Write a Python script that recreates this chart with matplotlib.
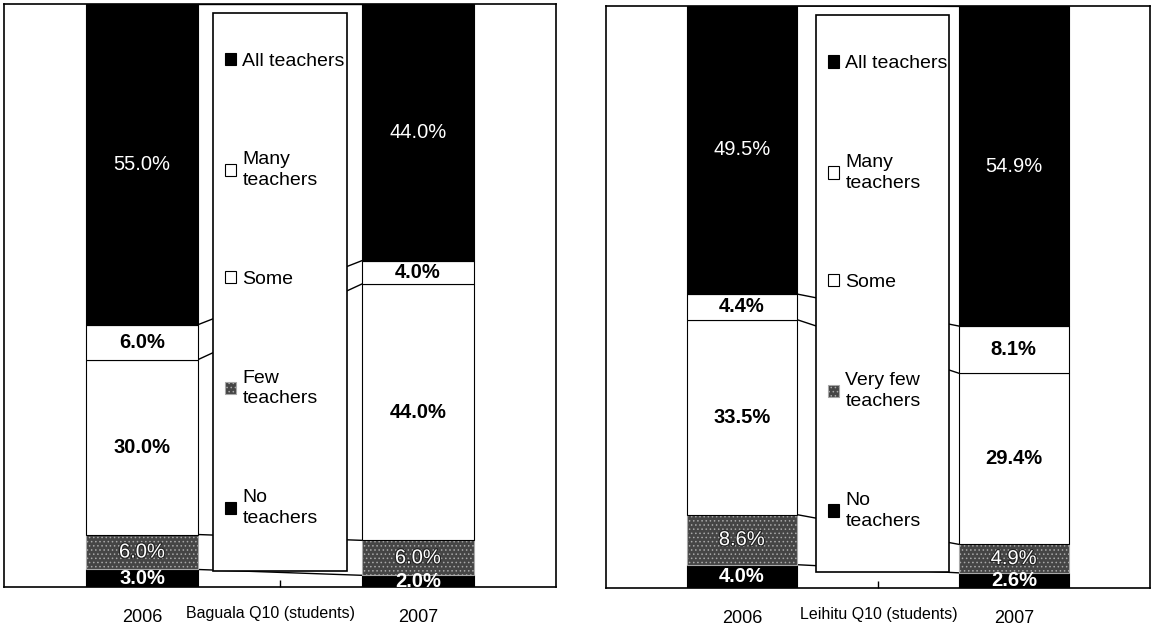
import matplotlib
matplotlib.use("Agg")
import numpy as np
import matplotlib.pyplot as plt
import matplotlib.patheffects as pe
from matplotlib.patches import Rectangle

plt.rcParams['font.family'] = ['Liberation Sans', 'DejaVu Sans']
plt.rcParams['hatch.linewidth'] = 0.6

# data (stack order: bottom -> top)
years = ['2006', '2007']
baguala_labels = ['No\nteachers', 'Few\nteachers', 'Some', 'Many\nteachers', 'All teachers']
baguala_2006 = [3.0, 6.0, 30.0, 6.0, 55.0]
baguala_2007 = [2.0, 6.0, 44.0, 4.0, 44.0]
leihitu_labels = ['No\nteachers', 'Very few\nteachers', 'Some', 'Many\nteachers', 'All teachers']
leihitu_2006 = [4.0, 8.6, 33.5, 4.4, 49.5]
leihitu_2007 = [2.6, 4.9, 29.4, 8.1, 54.9]

# segment styles
faces = ['black', '#454545', 'white', 'white', 'black']
edges = ['black', '#a8a8a8', 'black', 'black', 'black']
hatches = [None, '....', None, None, None]
txt_colors = ['white', 'white', 'black', 'black', 'white']
txt_weights = ['bold', 'normal', 'bold', 'bold', 'normal']

W = 0.405


def draw_panel(ax, v06, v07, labels, title, title_x, box, leg_anchor):
    data = np.array([v06, v07])
    bottoms = np.zeros(2)
    containers = []
    for i in range(data.shape[1]):
        bars = ax.bar([0, 1], data[:, i], W, bottom=bottoms, color=faces[i],
                      edgecolor=edges[i], hatch=hatches[i], linewidth=0.8,
                      zorder=3, label=labels[i])
        effects = [pe.withStroke(linewidth=1.6, foreground='#222222')] if i == 1 else None
        ax.bar_label(bars, labels=[f'{v:.1f}%' for v in data[:, i]], label_type='center',
                     color=txt_colors[i], fontsize=14.5, fontweight=txt_weights[i],
                     path_effects=effects, clip_on=True, zorder=6)
        bottoms = bottoms + data[:, i]
        containers.append(bars)

    # series lines between the two bars
    cum = np.cumsum(data, axis=1)
    for k in range(cum.shape[1]):
        ax.plot([W / 2, 1 - W / 2], [cum[0, k], cum[1, k]], color='black', lw=1, zorder=1)

    # legend box in the middle
    ax.add_patch(Rectangle((box[0], box[1]), box[2], box[3], transform=ax.transAxes,
                           facecolor='white', edgecolor='black', lw=1.2, zorder=4))
    leg = ax.legend(containers[::-1], labels[::-1], loc='upper left',
                    bbox_to_anchor=leg_anchor, bbox_transform=ax.transAxes,
                    frameon=False, fontsize=14, labelspacing=4.2,
                    handlelength=0.6, handleheight=0.6, handletextpad=0.3,
                    borderpad=0, borderaxespad=0)
    for t in leg.get_texts():
        t.set_linespacing(1.3)
    leg.set_zorder(5)

    ax.set_xlim(-0.5, 1.5)
    ax.set_ylim(0, 100)
    ax.set_xticks([0, 1], years)
    ax.set_xticks([0.5], minor=True)
    ax.set_yticks([])
    ax.tick_params(axis='x', which='major', length=0, pad=16, labelsize=13)
    ax.tick_params(axis='x', which='minor', direction='in', length=5, width=1)
    for s in ax.spines.values():
        s.set_linewidth(1.2)
    ax.text(title_x, -0.045, title, transform=ax.transAxes, ha='center', va='center',
            fontsize=11.5)


fig = plt.figure(figsize=(11.52, 6.3), dpi=100)
ax1 = fig.add_axes([0.0035, 0.0683, 0.479, 0.925])
ax2 = fig.add_axes([0.526, 0.0667, 0.472, 0.924])

draw_panel(ax1, baguala_2006, baguala_2007, baguala_labels, 'Baguala Q10 (students)', 0.482,
           (0.3786, 0.0274, 0.2428, 0.9572), (0.400, 0.917))
draw_panel(ax2, leihitu_2006, leihitu_2007, leihitu_labels, 'Leihitu Q10 (students)', 0.502,
           (0.386, 0.0275, 0.2445, 0.957), (0.408, 0.915))

fig.savefig('out.png', dpi=100)
